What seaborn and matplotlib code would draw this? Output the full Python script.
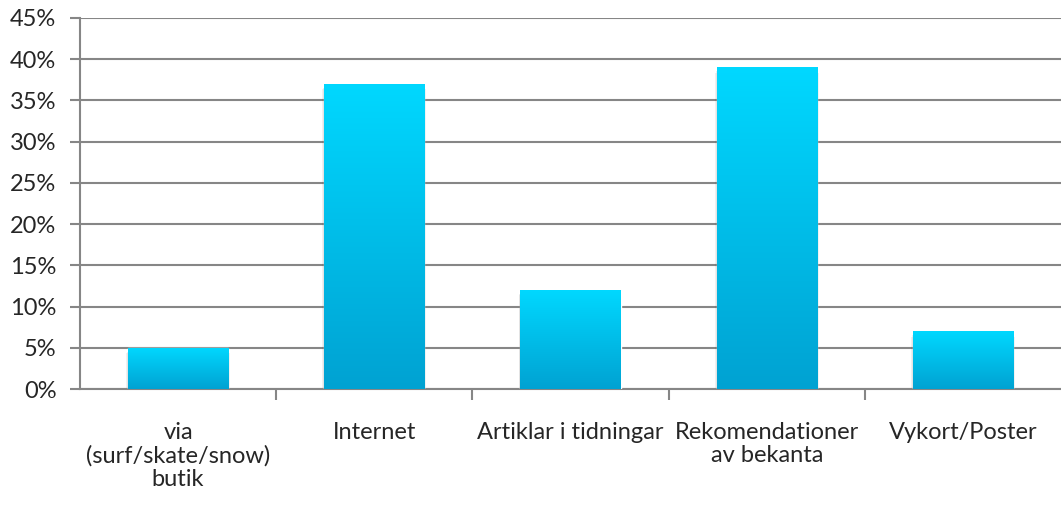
import numpy as np
import pandas as pd
import matplotlib
matplotlib.use('Agg')
import matplotlib.pyplot as plt
import seaborn as sns
from matplotlib.colors import LinearSegmentedColormap
from matplotlib.ticker import PercentFormatter, FixedLocator

categories = ["via\n(surf/skate/snow)\nbutik", "Internet", "Artiklar i tidningar",
              "Rekomendationer\nav bekanta", "Vykort/Poster"]
shares = [0.05, 0.37, 0.12, 0.39, 0.07]

df = pd.DataFrame({"kategori": categories, "andel": shares})

sns.set_style("white")
plt.rcParams['font.family'] = ['Lato', 'DejaVu Sans']

fig = plt.figure(figsize=(10.61, 5.11), dpi=100)
ax = fig.add_axes([0.0754, 0.2387, 0.9246, 0.7261])

sns.barplot(data=df, x="kategori", y="andel", color="#00c0e8", width=0.51, ax=ax, zorder=3)

# gradient fill on each bar (light cyan at top, darker blue at bottom)
cmap = LinearSegmentedColormap.from_list("bar", ["#00a2d2", "#00d8ff"])
grad = np.linspace(0, 1, 256).reshape(-1, 1)
for p in ax.patches:
    x0, y0 = p.get_x(), p.get_y()
    w, h = p.get_width(), p.get_height()
    # soft shadow under bar
    for i, a in enumerate([0.10, 0.08, 0.06]):
        ax.add_patch(plt.Rectangle((x0 - 0.005 * i, y0 - 0.0025 - 0.002 * i), w + 0.01 * i, h,
                                   color="black", alpha=a, lw=0, zorder=2))
    im = ax.imshow(grad, extent=[x0, x0 + w, y0, y0 + h], origin="lower",
                   aspect="auto", cmap=cmap, zorder=4)
    im.set_clip_path(p)

ax.set_xlim(-0.5, 4.5)
ax.set_ylim(0, 0.45)
ax.set_yticks(np.arange(0, 0.451, 0.05))
ax.yaxis.set_major_formatter(PercentFormatter(1.0, decimals=0))
ax.grid(axis="y", color="#868686", linewidth=1.5, zorder=0)
ax.set_axisbelow(True)

for s in ["top", "right"]:
    ax.spines[s].set_visible(False)
for s in ["left", "bottom"]:
    ax.spines[s].set_color("#868686")
    ax.spines[s].set_linewidth(1.5)

ax.tick_params(axis="y", length=7, width=1.5, color="#868686", labelsize=17, pad=10, left=True)
ax.tick_params(axis="x", which="major", length=0, labelsize=17, pad=24)
ax.xaxis.set_minor_locator(FixedLocator([0.5, 1.5, 2.5, 3.5]))
ax.tick_params(axis="x", which="minor", length=8, width=1.5, color="#868686", bottom=True)
for lbl in ax.get_xticklabels():
    lbl.set_linespacing(1.12)
ax.set_xlabel("")
ax.set_ylabel("")

fig.savefig("out.png", dpi=100)
